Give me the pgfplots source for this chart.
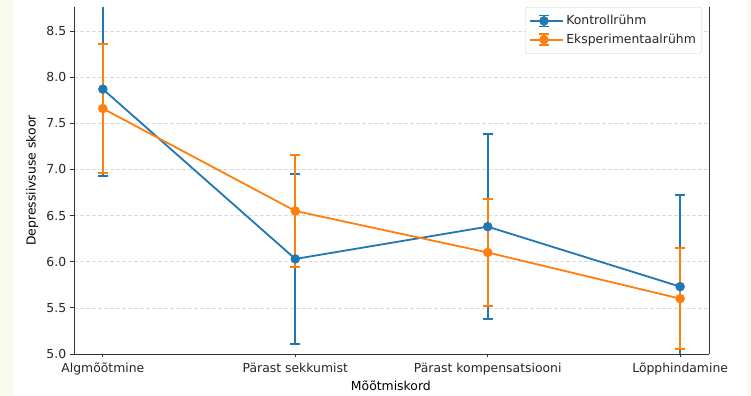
\documentclass[border=0pt]{standalone}
\usepackage{fontspec}
\setmainfont{DejaVu Sans}
\usepackage{pgfplots}
\pgfplotsset{compat=1.18}
\definecolor{cA}{HTML}{1F77B4}
\definecolor{cB}{HTML}{FF7F0E}
\definecolor{pagebg}{HTML}{F8FBEC}
\definecolor{txt}{HTML}{262626}
\begin{document}
\fontsize{12.4bp}{14bp}\selectfont
\begin{tikzpicture}
\fill[pagebg] (0,0) rectangle (751bp,396bp);
\fill[white] (12.5bp,0) rectangle (747bp,396bp);
\useasboundingbox (0,0) rectangle (751bp,396bp);
\begin{axis}[
  at={(74bp,42bp)}, anchor=south west, scale only axis,
  width=635bp, height=347bp,
  xmin=-0.15, xmax=3.15, ymin=5, ymax=8.76,
  axis x line*=bottom, axis y line*=box,
  xtick pos=bottom, ytick pos=left,
  tick align=outside, major tick length=3.5bp,
  every tick/.style={black!80, line width=0.8bp},
  axis line style={black!80, line width=0.8bp},
  xtick={0,1,2,3},
  xticklabels={Algmõõtmine, Pärast sekkumist, Pärast kompensatsiooni, Lõpphindamine},
  ytick={5,5.5,6,6.5,7,7.5,8,8.5},
  yticklabel style={/pgf/number format/.cd, fixed, fixed zerofill, precision=1},
  /pgf/number format/assume math mode=true,
  ticklabel style={font=\fontsize{12.4bp}{14bp}\selectfont, text=txt},
  xticklabel style={yshift=-1bp},
  ymajorgrids, major grid style={dash pattern=on 4bp off 2bp, black!14, line width=0.6bp},
  xlabel={Mõõtmiskord}, ylabel={Depressiivsuse skoor},
  label style={font=\fontsize{12.4bp}{14bp}\selectfont, text=txt},
  every axis x label/.style={at={(axis description cs:0.499,-0.092)}, anchor=center},
  every axis y label/.style={at={(axis description cs:-0.066,0.5)}, rotate=90, anchor=center},
  legend image code/.code={
    \path (0bp,0bp) -- (33bp,0bp);
    \draw[#1, mark=none] (0bp,0bp) -- (27bp,0bp);
    \draw[#1, mark=none, line width=1.8bp] (13.5bp,-5.5bp) -- (13.5bp,5.5bp);
    \draw[#1, mark=none, line width=1.8bp] (8.5bp,5.5bp) -- (18.5bp,5.5bp);
    \draw[#1, mark=none, line width=1.8bp] (8.5bp,-5.5bp) -- (18.5bp,-5.5bp);
    \draw[#1] plot coordinates {(13.5bp,0bp)};
  },
  legend style={at={(rel axis cs:0.989,0.8655)}, anchor=south east,
    draw=black!18, rounded corners=2.5bp, fill=white,
    inner xsep=4bp, inner ysep=6.2bp, row sep=3.4bp,
    font=\fontsize{12.4bp}{14bp}\selectfont, text=txt},
  legend cell align=left,
]
\addplot[cA, line width=1.8bp, mark=*, mark size=3.8bp, mark options={solid, fill=cA, draw=cA},
  error bars/.cd, y dir=both, y explicit,
  error bar style={line width=1.8bp, draw=cA},
  error mark options={rotate=90, mark size=5.2bp, line width=1.8bp, draw=cA}]
  coordinates {(0,7.87) +- (0,0.94) (1,6.03) +- (0,0.92) (2,6.38) +- (0,1.0) (3,5.73) +- (0,0.99)};
\addlegendentry{Kontrollrühm}
\addplot[cB, line width=1.8bp, mark=*, mark size=3.8bp, mark options={solid, fill=cB, draw=cB},
  error bars/.cd, y dir=both, y explicit,
  error bar style={line width=1.8bp, draw=cB},
  error mark options={rotate=90, mark size=5.2bp, line width=1.8bp, draw=cB}]
  coordinates {(0,7.66) +- (0,0.70) (1,6.55) +- (0,0.61) (2,6.10) +- (0,0.58) (3,5.60) +- (0,0.55)};
\addlegendentry{Eksperimentaalrühm}
\end{axis}
\fill[white] (12.5bp,389bp) rectangle (747bp,396bp);
\end{tikzpicture}
\end{document}
